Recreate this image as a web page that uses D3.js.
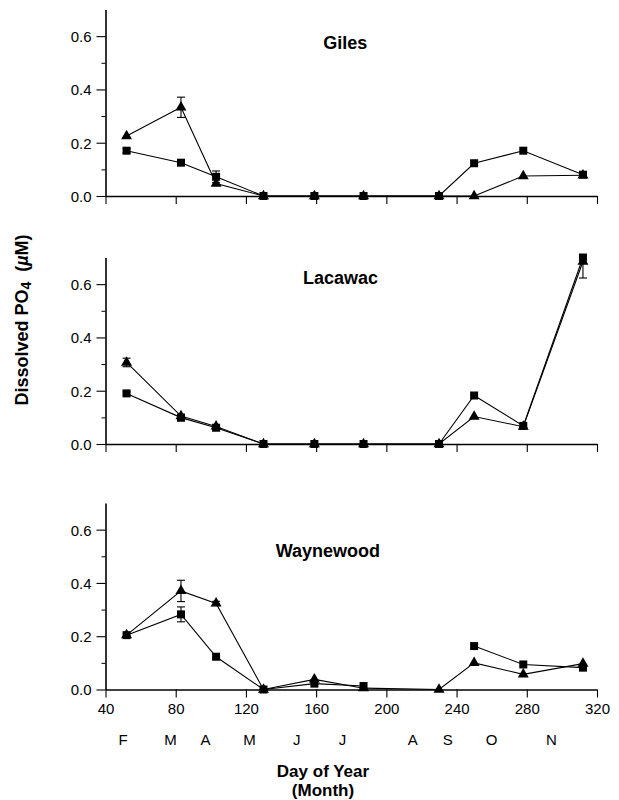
<!DOCTYPE html>
<html>
<head>
<meta charset="utf-8">
<script src="https://cdn.jsdelivr.net/npm/d3@7"></script>
<style>
  html, body { margin:0; padding:0; background:#fff; }
  svg text { font-family: "Liberation Sans", Arial, Helvetica, sans-serif; fill:#000; }
</style>
</head>
<body>
<div id="chart"></div>
<script>
// dissolved PO4 por lago - tres paneles apilados
const days = [52, 83, 103, 130, 159, 187, 230, 250, 278, 312];
const lakes = ['Giles', 'Lacawac', 'Waynewood'];

// cuadrados
const gilesSq     = [0.170, 0.125, 0.072, 0, 0, 0, 0, 0.123, 0.170, 0.080];
const lacawacSq   = [0.190, 0.099, 0.061, 0, 0, 0, 0, 0.182, 0.068, 0.700];
const waynewoodSq = [0.204, 0.282, 0.123, 0, 0.022, 0.013, null, 0.163, 0.094, 0.082];
// triangulos
const gilesTri     = [0.225, 0.333, 0.047, 0, 0, 0, 0, 0, 0.075, 0.078];
const lacawacTri   = [0.306, 0.105, 0.066, 0, 0, 0, 0, 0.103, 0.065, 0.685];
const waynewoodTri = [0.204, 0.370, 0.323, 0, 0.038, 0.005, 0, 0.100, 0.057, 0.097];
// barras de error [abajo, arriba]
const gilesSqErr     = [[0.008, 0.008], 0, [0.022, 0.022], 0, 0, 0, 0, 0, 0, 0];
const lacawacSqErr   = [[0.006, 0.006], [0.012, 0.012], 0, 0, 0, 0, 0, 0, 0, 0];
const waynewoodSqErr = [0, [0.028, 0.028], 0, 0, 0, 0, 0, 0, 0, 0];
const gilesTriErr     = [0, [0.038, 0.038], 0, 0, 0, 0, 0, 0, 0, 0];
const lacawacTriErr   = [[0.016, 0.016], 0, 0, 0, 0, 0, 0, 0, 0, [0.062, 0.01]];
const waynewoodTriErr = [0, [0.040, 0.040], [0.008, 0.008], 0, 0, 0, 0, 0, 0, 0];

const xTicks = [40, 80, 120, 160, 200, 240, 280, 320];
const yTicks = [0, 0.2, 0.4, 0.6];
const yMinor = [0.1, 0.3, 0.5];
const monthLabels = ['F', 'M', 'A', 'M', 'J', 'J', 'A', 'S', 'O', 'N'];
const monthDays   = [50, 77, 97, 122, 149, 175, 215, 235, 260, 294];

const series = [
  { sq: gilesSq, tri: gilesTri, sqErr: gilesSqErr, triErr: gilesTriErr },
  { sq: lacawacSq, tri: lacawacTri, sqErr: lacawacSqErr, triErr: lacawacTriErr },
  { sq: waynewoodSq, tri: waynewoodTri, sqErr: waynewoodSqErr, triErr: waynewoodTriErr }
];

const W = 619, H = 800;
const left = 105.5, right = 597;
const panelTop = [9.5, 257.5, 503];
const panelH = 186.5;
const titlePos = [[164, 39.5], [152.5, 26.5], [137, 53.5]]; // [dia, px desde arriba]

const svg = d3.select('#chart').append('svg')
  .attr('width', W).attr('height', H);

const x = d3.scaleLinear().domain([40, 320]).range([left, right]);
const y = d3.scaleLinear().domain([0, 0.7]).range([panelH, 0]);

const sqSym = d3.symbol().type(d3.symbolSquare).size(64);
const triSym = d3.symbol().type(d3.symbolTriangle).size(52);

lakes.forEach((lake, i) => {
  const g = svg.append('g').attr('transform', `translate(0,${panelTop[i]})`);
  const s = series[i];

  // ejes
  const yAx = g.append('g').attr('transform', `translate(${left},0)`)
    .call(d3.axisLeft(y).tickValues(yTicks).tickFormat(d3.format('.1f')).tickSize(9).tickPadding(5).tickSizeOuter(0));
  g.append('g').attr('transform', `translate(${left},0)`)
    .call(d3.axisLeft(y).tickValues(yMinor).tickFormat('').tickSize(4).tickSizeOuter(0))
    .select('.domain').remove();
  const xAx = g.append('g').attr('transform', `translate(0,${panelH})`)
    .call(d3.axisBottom(x).tickValues(xTicks).tickSize(8).tickPadding(6).tickSizeOuter(0)
      .tickFormat(i === 2 ? d3.format('d') : ''));
  [yAx, xAx].forEach(a => {
    a.selectAll('text').attr('font-size', 15).attr('fill', '#000');
    a.select('.domain').attr('stroke-width', 1.6);
    a.selectAll('line').attr('stroke-width', 1.1);
  });
  yAx.selectAll('text').attr('dy', '0.36em');

  g.append('text')
    .attr('x', x(titlePos[i][0])).attr('y', titlePos[i][1])
    .attr('font-size', 18).attr('font-weight', 'bold')
    .text(lake);

  const pts = arr => arr.map((v, k) => ({ d: days[k], v }));
  const line = d3.line().defined(p => p.v != null).x(p => x(p.d)).y(p => y(p.v));

  [[s.tri, s.triErr, triSym], [s.sq, s.sqErr, sqSym]].forEach(([vals, errs, sym]) => {
    const data = pts(vals);
    g.append('path').datum(data)
      .attr('d', line).attr('fill', 'none').attr('stroke', '#000').attr('stroke-width', 1.1);

    const eb = data.map((p, k) => ({ ...p, e: errs[k] })).filter(p => p.v != null && p.e);
    const ebG = g.append('g').attr('stroke', '#000').attr('stroke-width', 1.1);
    ebG.selectAll('line.v').data(eb).join('line')
      .attr('x1', p => x(p.d)).attr('x2', p => x(p.d))
      .attr('y1', p => y(p.v - p.e[0])).attr('y2', p => y(p.v + p.e[1]));
    ebG.selectAll('line.t').data(eb).join('line')
      .attr('x1', p => x(p.d) - 4).attr('x2', p => x(p.d) + 4)
      .attr('y1', p => y(p.v + p.e[1])).attr('y2', p => y(p.v + p.e[1]));
    ebG.selectAll('line.b').data(eb).join('line')
      .attr('x1', p => x(p.d) - 4).attr('x2', p => x(p.d) + 4)
      .attr('y1', p => y(p.v - p.e[0])).attr('y2', p => y(p.v - p.e[0]));

    g.append('g').selectAll('path').data(data.filter(p => p.v != null)).join('path')
      .attr('d', sym)
      .attr('transform', p => `translate(${x(p.d)},${y(p.v)})`)
      .attr('fill', '#000');
  });
});

// meses
svg.append('g').selectAll('text').data(monthLabels).join('text')
  .attr('x', (m, k) => x(monthDays[k]))
  .attr('y', 745)
  .attr('text-anchor', 'middle').attr('font-size', 15)
  .text(m => m);

svg.append('text').attr('x', 323).attr('y', 777)
  .attr('text-anchor', 'middle').attr('font-size', 17).attr('font-weight', 'bold')
  .text('Day of Year');
svg.append('text').attr('x', 323).attr('y', 796)
  .attr('text-anchor', 'middle').attr('font-size', 17).attr('font-weight', 'bold')
  .text('(Month)');

const yt = svg.append('text')
  .attr('transform', 'translate(28,320) rotate(-90)')
  .attr('text-anchor', 'middle').attr('font-size', 18).attr('font-weight', 'bold');
yt.append('tspan').text('Dissolved PO');
yt.append('tspan').attr('font-size', 14).attr('dy', 3).text('4');
yt.append('tspan').attr('dy', -3).text('\u00a0\u00a0(');
yt.append('tspan').attr('font-style', 'italic').text('\u00b5');
yt.append('tspan').text('M)');
</script>
</body>
</html>
